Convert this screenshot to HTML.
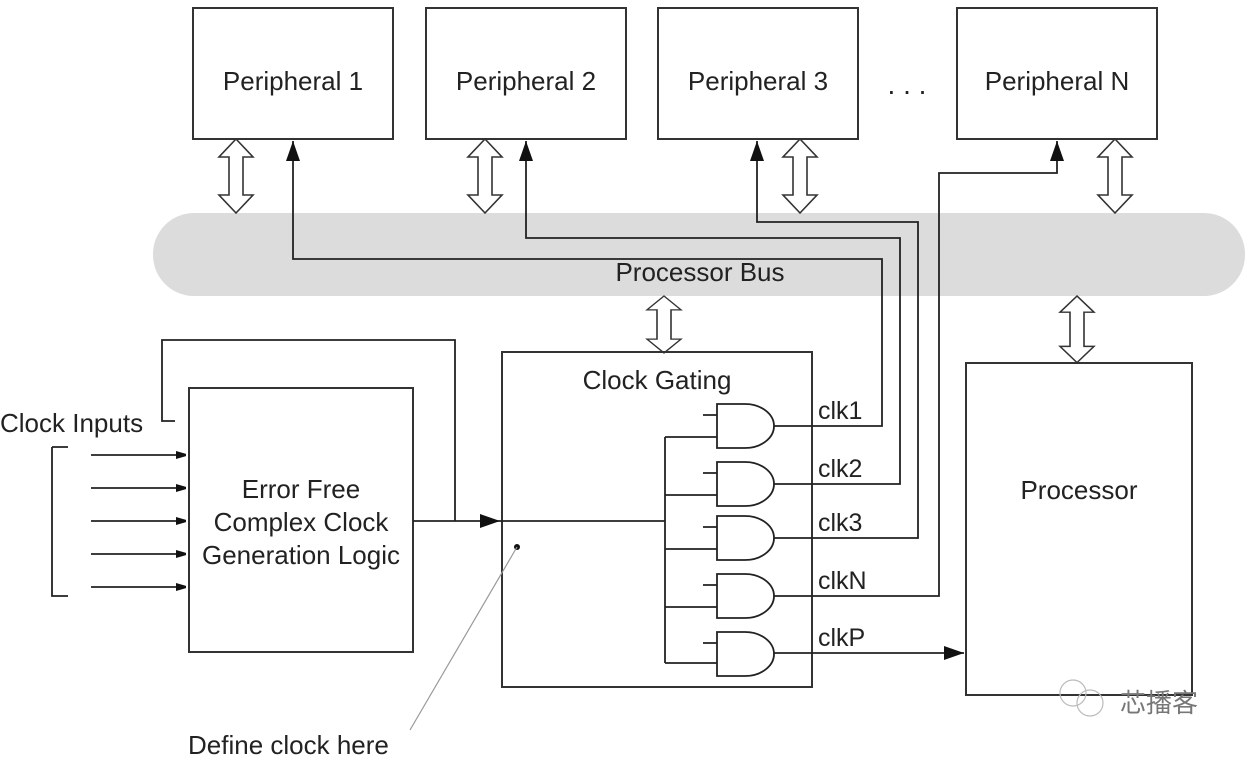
<!DOCTYPE html>
<html><head><meta charset="utf-8"><style>
html,body{margin:0;padding:0;background:#fff;width:1256px;height:766px;overflow:hidden}
text{font-family:"Liberation Sans",Arial,sans-serif;fill:#222}
</style></head><body>
<svg width="1256" height="766" viewBox="0 0 1256 766" xmlns="http://www.w3.org/2000/svg">
<defs>
<marker id="a" markerWidth="10" markerHeight="8" refX="10" refY="4" orient="auto" markerUnits="userSpaceOnUse"><path d="M0,0 L14,4 L0,8 Z" fill="#111"/></marker>
<marker id="b" markerWidth="20" markerHeight="14" refX="20" refY="7" orient="auto" markerUnits="userSpaceOnUse"><path d="M0,0 L20,7 L0,14 Z" fill="#111"/></marker>
</defs>
<rect x="153" y="213" width="1092" height="83" rx="41" fill="#dcdcdc"/>
<text x="700" y="281" font-size="26" text-anchor="middle">Processor Bus</text>
<g fill="#fff" stroke="#333" stroke-width="2">
<rect x="193" y="8" width="200" height="131"/>
<rect x="426" y="8" width="200" height="131"/>
<rect x="658" y="8" width="200" height="131"/>
<rect x="957" y="8" width="200" height="131"/>
</g>
<g font-size="26" text-anchor="middle">
<text x="293" y="90">Peripheral 1</text>
<text x="526" y="90">Peripheral 2</text>
<text x="758" y="90">Peripheral 3</text>
<text x="1057" y="90">Peripheral N</text>
<text x="907" y="94" font-size="28">. . .</text>
</g>
<g fill="#fff" stroke="#333" stroke-width="1.6">
<path transform="translate(236,139)" d="M0,0 L17,18 L7,18 L7,56 L17,56 L0,74 L-17,56 L-7,56 L-7,18 L-17,18 Z"/>
<path transform="translate(485,139)" d="M0,0 L17,18 L7,18 L7,56 L17,56 L0,74 L-17,56 L-7,56 L-7,18 L-17,18 Z"/>
<path transform="translate(800,139)" d="M0,0 L17,18 L7,18 L7,56 L17,56 L0,74 L-17,56 L-7,56 L-7,18 L-17,18 Z"/>
<path transform="translate(1115,139)" d="M0,0 L17,18 L7,18 L7,56 L17,56 L0,74 L-17,56 L-7,56 L-7,18 L-17,18 Z"/>
<path transform="translate(664,296) scale(1,0.77)" d="M0,0 L17,18 L7,18 L7,56 L17,56 L0,74 L-17,56 L-7,56 L-7,18 L-17,18 Z"/>
<path transform="translate(1077,296) scale(1,0.9)" d="M0,0 L17,18 L7,18 L7,56 L17,56 L0,74 L-17,56 L-7,56 L-7,18 L-17,18 Z"/>
</g>
<g fill="none" stroke="#333" stroke-width="2">
<rect x="189" y="388" width="224" height="264"/>
<rect x="502" y="352" width="310" height="335"/>
<rect x="966" y="363" width="226" height="332"/>
</g>
<g font-size="26" text-anchor="middle">
<text x="301" y="498">Error Free</text>
<text x="301" y="531">Complex Clock</text>
<text x="301" y="564">Generation Logic</text>
<text x="657" y="389">Clock Gating</text>
<text x="1079" y="499">Processor</text>
</g>
<text x="0" y="432" font-size="26">Clock Inputs</text>
<g fill="none" stroke="#222" stroke-width="1.8">
<path d="M52,447 L68,447 M52,447 L52,596 L68,596"/>
<path d="M91,455 L186,455" marker-end="url(#a)"/>
<path d="M91,488 L186,488" marker-end="url(#a)"/>
<path d="M91,521 L186,521" marker-end="url(#a)"/>
<path d="M91,554 L186,554" marker-end="url(#a)"/>
<path d="M91,587 L186,587" marker-end="url(#a)"/>
<path d="M175,421 L162,421 L162,340 L455,340 L455,521"/>
<path d="M413,521 L500,521" marker-end="url(#b)"/>
<path d="M500,521 L665,521"/>
<path d="M665,437 L665,663"/>
<path d="M717,404 L745,404 A29,22 0 0 1 745,448 L717,448 Z"/>
<path d="M717,462 L745,462 A29,22 0 0 1 745,506 L717,506 Z"/>
<path d="M717,516 L745,516 A29,22 0 0 1 745,560 L717,560 Z"/>
<path d="M717,574 L745,574 A29,22 0 0 1 745,618 L717,618 Z"/>
<path d="M717,632 L745,632 A29,22 0 0 1 745,676 L717,676 Z"/>
<path d="M703,415 L717,415 M703,473 L717,473 M703,527 L717,527 M703,585 L717,585 M703,643 L717,643"/>
<path d="M665,437 L717,437 M665,495 L717,495 M665,549 L717,549 M665,607 L717,607 M665,663 L717,663"/>
<path d="M774,426 L882,426 L882,259 L293,259 L293,141" marker-end="url(#b)"/>
<path d="M774,484 L900,484 L900,238 L526,238 L526,141" marker-end="url(#b)"/>
<path d="M774,538 L918,538 L918,222 L757,222 L757,141" marker-end="url(#b)"/>
<path d="M774,596 L939,596 L939,173 L1057,173 L1057,141" marker-end="url(#b)"/>
<path d="M774,653 L964,653" marker-end="url(#b)"/>
</g>
<g font-size="25">
<text x="818" y="419">clk1</text>
<text x="818" y="477">clk2</text>
<text x="818" y="531">clk3</text>
<text x="818" y="589">clkN</text>
<text x="818" y="646">clkP</text>
</g>
<circle cx="517" cy="547" r="3" fill="#111"/>
<line x1="517" y1="547" x2="410" y2="730" stroke="#999" stroke-width="1.2"/>
<text x="188" y="754" font-size="26">Define clock here</text>
<text x="1120" y="712" font-size="26" style="fill:#777;font-family:'Liberation Sans','Noto Sans CJK SC',sans-serif">芯播客</text>
<circle cx="1073" cy="693" r="13" fill="none" stroke="#bbb" stroke-width="1.2"/>
<circle cx="1090" cy="703" r="13" fill="none" stroke="#bbb" stroke-width="1.2"/>
</svg>
</body></html>
